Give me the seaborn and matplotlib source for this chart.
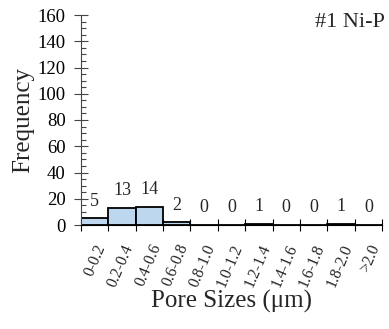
import matplotlib
matplotlib.use("Agg")
import matplotlib.pyplot as plt
import matplotlib.transforms as mtransforms
import seaborn as sns
import pandas as pd
from matplotlib.ticker import MultipleLocator, FixedLocator

categories = ["0-0.2", "0.2-0.4", "0.4-0.6", "0.6-0.8", "0.8-1.0", "1.0-1.2",
              "1.2-1.4", "1.4-1.6", "1.6-1.8", "1.8-2.0", ">2.0"]
frequency = [5, 13, 14, 2, 0, 0, 1, 0, 0, 1, 0]
title_text = "#1 Ni-P"

sns.set_style("white")
plt.rcParams['font.family'] = ['Liberation Serif', 'DejaVu Serif']

df = pd.DataFrame({"size": categories, "freq": frequency})

fig = plt.figure(figsize=(3.89, 3.29), dpi=100)
ax = fig.add_axes([81 / 389, 1 - 225 / 329, 301 / 389, 210 / 329])

sns.barplot(data=df, x="size", y="freq", ax=ax, color="#BDD7EE",
            saturation=1, width=1.0, edgecolor="black", linewidth=1.3)

ax.set_ylim(0, 160)
ax.set_xlim(-0.5, len(categories) - 0.5)
ax.yaxis.set_major_locator(MultipleLocator(20))
ax.yaxis.set_minor_locator(MultipleLocator(5))
ax.tick_params(axis='y', which='major', direction='inout', length=10, width=0.8,
               labelsize=13.5, colors='#444444', labelcolor='black', pad=6)
ax.tick_params(axis='y', which='minor', direction='in', length=3.5, width=0.8, colors='#444444')
ax.tick_params(axis='y', which='both', left=True)

ax.set_xticks(range(len(categories)))
ax.set_xticklabels(categories, rotation=67, ha='right', va='top',
                   rotation_mode='anchor', fontsize=11.3)
shift = mtransforms.ScaledTranslation(4 / 100, 0, fig.dpi_scale_trans)
for lab in ax.get_xticklabels():
    lab.set_transform(lab.get_transform() + shift)
ax.xaxis.set_minor_locator(FixedLocator([i - 0.5 for i in range(len(categories) + 1)]))
ax.tick_params(axis='x', which='major', length=0, pad=12)
ax.tick_params(axis='x', which='minor', direction='inout', length=9, width=0.8,
               colors='black', bottom=True)

for s in ['top', 'right']:
    ax.spines[s].set_visible(False)
ax.spines['left'].set_color('#444444')
ax.spines['bottom'].set_color('black')
ax.spines['left'].set_linewidth(0.8)
ax.spines['bottom'].set_linewidth(0.8)

for i, v in enumerate(frequency):
    ax.annotate(str(v), (i, v), xytext=(0, 9), textcoords='offset points',
                ha='center', va='baseline', fontsize=13)

ax.set_ylabel("Frequency", fontsize=18)
ax.yaxis.set_label_coords(-0.157, 0.5)
ax.set_xlabel("Pore Sizes (\u03bcm)", fontsize=18)
ax.xaxis.set_label_coords(0.5, -0.31)
ax.text(1.01, 1.01, title_text, transform=ax.transAxes, ha='right', va='top', fontsize=16)

fig.savefig("out.png", dpi=100)
